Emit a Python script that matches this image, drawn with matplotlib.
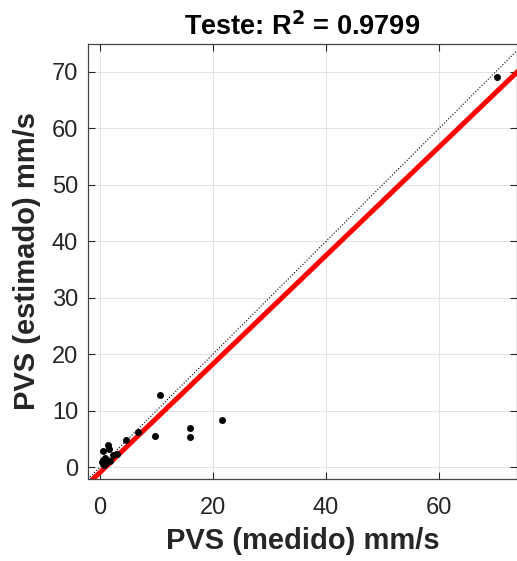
import numpy as np
import matplotlib.pyplot as plt

plt.rcParams['font.family'] = ['Liberation Sans', 'DejaVu Sans']

# Teste set: measured vs estimated PVS (mm/s)
medido = [70.3, 10.6, 15.9, 15.9, 21.6, 9.7, 6.7, 4.6,
          1.4, 0.5, 1.6, 3.0, 2.3, 0.9, 0.5, 1.8, 0.7, 1.1, 0.4]
estimado = [69.1, 12.8, 6.9, 5.3, 8.3, 5.5, 6.2, 4.8,
            3.9, 2.8, 3.2, 2.3, 2.1, 1.6, 1.2, 1.1, 0.4, 0.7, 0.9]

# fitted model line
slope = 0.961
intercept = -0.95
r2 = 0.9799

xlim = (-2.1, 73.8)
ylim = (-2.1, 75)

fig = plt.figure(figsize=(5.17, 5.61), dpi=100)
ax = fig.add_axes([0.170, 0.146, 0.830, 0.776])

xx = np.array(xlim)
ax.plot(xx, xx, ':', color='black', lw=0.8)
ax.plot(xx, slope * xx + intercept, '-', color='red', lw=3.6)
ax.plot(medido, estimado, 'o', color='black', ms=4)

ax.set_xlim(xlim)
ax.set_ylim(ylim)
ax.set_xticks([0, 20, 40, 60])
ax.set_yticks(range(0, 80, 10))
ax.grid(True, color='#e3e3e3', lw=0.7)
ax.set_axisbelow(True)
ax.tick_params(direction='in', top=True, right=True, length=5, width=0.8,
               labelsize=17, colors='#262626')
ax.tick_params(axis='x', pad=13)
ax.tick_params(axis='y', pad=7)
for s in ax.spines.values():
    s.set_color('#444444')
    s.set_linewidth(0.9)

ax.set_xlabel('PVS (medido) mm/s', fontsize=21, fontweight='bold',
              color='#262626', labelpad=6)
ax.set_ylabel('PVS (estimado) mm/s', fontsize=21, fontweight='bold',
              color='#262626', labelpad=8)
ax.set_title('Teste: R$^\\mathbf{2}$ = %.4f' % r2, fontsize=19.5,
             fontweight='bold', pad=6)

fig.savefig('out.png', dpi=100)
